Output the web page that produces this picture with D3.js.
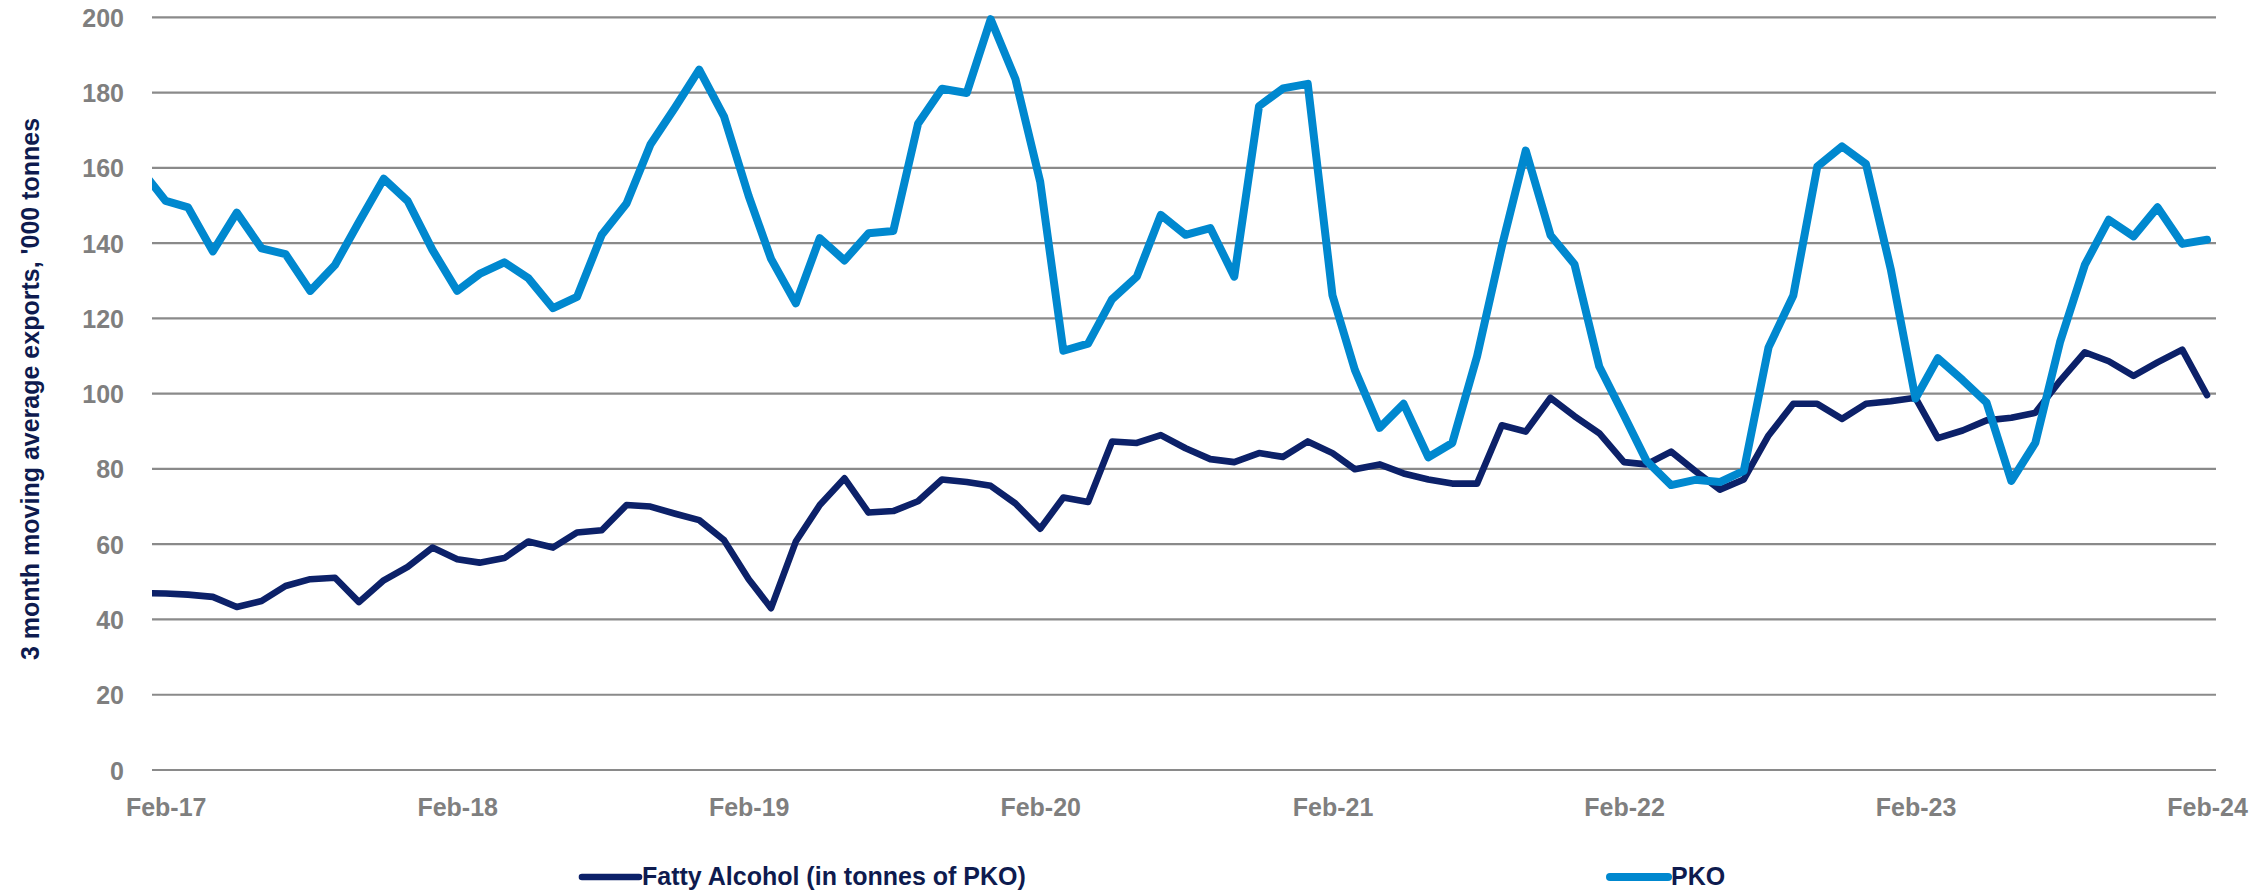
<!DOCTYPE html>
<html>
<head>
<meta charset="utf-8">
<script src="https://cdn.jsdelivr.net/npm/d3@7"></script>
<style>
  html, body { margin: 0; padding: 0; background: #ffffff; }
  svg { display: block; }
  .lbl { font-family: "Liberation Sans", Arial, sans-serif; font-weight: 700; }
</style>
</head>
<body>
<svg id="chart" width="2266" height="892"></svg>
<script>
// Monthly observations, Jan-17 .. Feb-24 (3 month moving average, '000 tonnes)
const startMonth = new Date(2017, 0, 1);
const endMonth = new Date(2024, 1, 1);
const months = d3.timeMonth.range(startMonth, d3.timeMonth.offset(endMonth, 1));

const fattyAlcohol = [
  47.0, 46.9, 46.6, 46.0, 43.3, 44.9, 48.9, 50.7, 51.1, 44.6, 50.4, 54.0, 59.1,
  56.0, 55.1, 56.3, 60.7, 59.1, 63.1, 63.7, 70.4, 70.0, 68.1, 66.4, 61.1,
  50.7, 43.0, 60.7, 70.4, 77.5, 68.4, 68.8, 71.4, 77.2, 76.5, 75.5, 70.8,
  64.1, 72.4, 71.2, 87.3, 86.9, 89.0, 85.5, 82.6, 81.8, 84.2, 83.2, 87.3,
  84.2, 79.9, 81.2, 78.8, 77.2, 76.1, 76.1, 91.6, 89.9, 98.9, 94.0, 89.5,
  81.8, 81.2, 84.6, 79.5, 74.5, 77.2, 88.9, 97.3, 97.3, 93.3, 97.3, 98.0,
  98.9, 88.2, 90.2, 92.9, 93.6, 94.9, 103.4, 111.0, 108.6, 104.7, 108.3, 111.7,
  99.6
];

const pko = [
  159.5, 151.2, 149.5, 137.8, 148.1, 138.6, 137.1, 127.3, 134.2, 145.6, 157.1, 151.2, 138.2,
  127.3, 131.8, 134.9, 130.7, 122.7, 125.7, 142.2, 150.5, 166.2, 176.1, 186.1, 173.7,
  152.5, 135.8, 124.0, 141.3, 135.4, 142.6, 143.2, 171.7, 181.0, 179.9, 199.5, 183.6,
  156.3, 111.4, 113.3, 125.1, 131.1, 147.5, 142.2, 144.0, 131.1, 176.4, 181.1, 182.3,
  126.1, 106.3, 90.9, 97.3, 83.1, 86.9, 109.9, 139.1, 164.6, 142.1, 134.4, 107.2,
  94.2, 82.2, 75.7, 77.1, 76.5, 79.5, 112.3, 126.1, 160.3, 165.7, 161.0, 133.1,
  98.7, 109.4, 103.6, 97.6, 76.8, 86.9, 113.7, 134.2, 146.2, 141.8, 149.5, 139.8,
  140.9
];

const xTickLabels = ["Feb-17", "Feb-18", "Feb-19", "Feb-20", "Feb-21", "Feb-22", "Feb-23", "Feb-24"];
const yTicks = [0, 20, 40, 60, 80, 100, 120, 140, 160, 180, 200];

const seriesNames = ["Fatty Alcohol (in tonnes of PKO)", "PKO"];
const seriesColors = ["#0c2169", "#0088cf"];

const svg = d3.select("#chart");

// plot frame
const plotLeft = 152, plotRight = 2216;
const x = d3.scaleTime()
  .domain([new Date(2017, 1, 1), endMonth])
  .range([165.7, 2207]);
const y = d3.scaleLinear().domain([0, 200]).range([770, 17.3]);

// horizontal gridlines
svg.append("g")
  .selectAll("line")
  .data(yTicks)
  .join("line")
  .attr("x1", plotLeft).attr("x2", plotRight)
  .attr("y1", d => y(d)).attr("y2", d => y(d))
  .attr("stroke", "#8a8a8a")
  .attr("stroke-width", 2.2);

// y axis labels
const yAxis = svg.append("g")
  .attr("transform", `translate(${plotLeft},0)`)
  .call(d3.axisLeft(y).tickValues(yTicks).tickSize(0).tickPadding(28));
yAxis.select(".domain").remove();
yAxis.selectAll("text")
  .attr("class", "lbl")
  .attr("fill", "#7f7f7f")
  .style("font-size", "25px")
  .attr("dy", "0.36em");

// x axis labels at each February
const xTickDates = xTickLabels.map((_, k) => new Date(2017 + k, 1, 1));
const xAxis = svg.append("g")
  .attr("transform", "translate(0,770)")
  .call(d3.axisBottom(x).tickValues(xTickDates).tickSize(0).tickPadding(0)
    .tickFormat((d, k) => xTickLabels[k]));
xAxis.select(".domain").remove();
xAxis.selectAll("text")
  .attr("class", "lbl")
  .attr("fill", "#7f7f7f")
  .style("font-size", "25px")
  .attr("y", 46)
  .attr("dy", 0);

// y axis title
svg.append("text")
  .attr("class", "lbl")
  .attr("transform", "translate(30,389) rotate(-90)")
  .attr("text-anchor", "middle")
  .attr("dominant-baseline", "central")
  .attr("fill", "#0e1b4f")
  .style("font-size", "25px")
  .text("3 month moving average exports, '000 tonnes");

// clip lines to the plot's horizontal extent
svg.append("clipPath").attr("id", "plotClip")
  .append("rect")
  .attr("x", plotLeft).attr("y", 0)
  .attr("width", plotRight - plotLeft).attr("height", 892);

const line = d3.line()
  .x((d, i) => x(months[i]))
  .y(d => y(d));

const lines = svg.append("g").attr("clip-path", "url(#plotClip)");
[[fattyAlcohol, 6.6], [pko, 8]].forEach(([vals, w], k) => {
  lines.append("path")
    .datum(vals)
    .attr("d", line)
    .attr("fill", "none")
    .attr("stroke", seriesColors[k])
    .attr("stroke-width", w)
    .attr("stroke-linejoin", "round")
    .attr("stroke-linecap", "round");
});

// legend
const legendItems = [
  { x1: 582, x2: 639, tx: 642, w: 6.6 },
  { x1: 1610, x2: 1668, tx: 1671, w: 8 }
];
const legend = svg.append("g");
legendItems.forEach((it, k) => {
  legend.append("line")
    .attr("x1", it.x1).attr("x2", it.x2)
    .attr("y1", 877).attr("y2", 877)
    .attr("stroke", seriesColors[k])
    .attr("stroke-width", it.w)
    .attr("stroke-linecap", "round");
  legend.append("text")
    .attr("class", "lbl")
    .attr("x", it.tx).attr("y", 885)
    .attr("fill", "#0e1b4f")
    .style("font-size", "25px")
    .text(seriesNames[k]);
});
</script>
</body>
</html>
